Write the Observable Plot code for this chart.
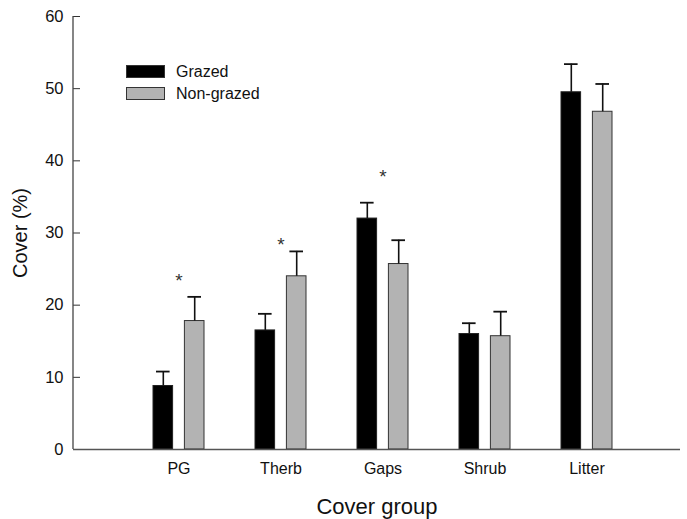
<!DOCTYPE html>
<html>
<head>
<meta charset="utf-8">
<script src="https://cdn.jsdelivr.net/npm/d3@7"></script>
<script src="https://cdn.jsdelivr.net/npm/@observablehq/plot@0.6"></script>
<style>
  html, body { margin: 0; padding: 0; background: #fff; }
  #wrap { position: relative; width: 687px; height: 519px; font-family: "Liberation Sans", Arial, sans-serif; }
  .leg { position: absolute; left: 126px; font-size: 16px; color: #111; }
  .sw { position: absolute; width: 39px; height: 13px; box-sizing: border-box; border: 1px solid #333; }
  .lt { position: absolute; left: 50px; white-space: nowrap; line-height: 16px; }
</style>
</head>
<body>
<div id="wrap"></div>
<script>
const categories = ["PG", "Therb", "Gaps", "Shrub", "Litter"];
const grazed = [8.8, 16.5, 32.0, 16.0, 49.5];
const grazedSE = [2.0, 2.3, 2.2, 1.5, 3.9];
const nonGrazed = [17.8, 24.0, 25.7, 15.7, 46.8];
const nonGrazedSE = [3.35, 3.45, 3.3, 3.4, 3.85];
const yTicks = [0, 10, 20, 30, 40, 50, 60];
const starGroups = ["PG", "Therb", "Gaps"];
const starY = [24.0, 29.1, 38.4];
const seriesNames = ["Grazed", "Non-grazed"];
const seriesFill = ["#000000", "#b3b3b3"];

const gData = categories.map((c, i) => ({cat: c, v: grazed[i], se: grazedSE[i]}));
const nData = categories.map((c, i) => ({cat: c, v: nonGrazed[i], se: nonGrazedSE[i]}));
const stars = starGroups.map((c, i) => ({cat: c, y: starY[i]}));

const W = 687, H = 519;
const chart = Plot.plot({
  width: W,
  height: H,
  marginLeft: 73,
  marginRight: 7,
  marginTop: 16,
  marginBottom: 70,
  style: {fontFamily: "Liberation Sans, Arial, sans-serif", color: "#111", background: "#fff"},
  x: {domain: categories, paddingInner: 0.5, paddingOuter: 0.7, align: 0.54, label: null},
  y: {domain: [0, 60], label: null},
  marks: [
    Plot.axisY({ticks: yTicks, tickSize: -7, tickPadding: 17, fontSize: 16.5, label: null, stroke: "#333"}),
    Plot.axisX({tickSize: 0, tickPadding: 13, fontSize: 16, label: null}),
    Plot.barY(gData, {x: "cat", y: "v", fill: seriesFill[0], stroke: "#222", strokeWidth: 1, insetRight: 31.4}),
    Plot.barY(nData, {x: "cat", y: "v", fill: seriesFill[1], stroke: "#333", strokeWidth: 1, insetLeft: 31.4}),
    Plot.ruleX(gData, {x: "cat", y1: "v", y2: d => d.v + d.se, dx: -15.7, stroke: "#111", strokeWidth: 1.6}),
    Plot.ruleX(nData, {x: "cat", y1: "v", y2: d => d.v + d.se, dx: 15.7, stroke: "#111", strokeWidth: 1.6}),
    Plot.tickY(gData, {x: "cat", y: d => d.v + d.se, insetLeft: 3, insetRight: 34.4, stroke: "#111", strokeWidth: 1.8}),
    Plot.tickY(nData, {x: "cat", y: d => d.v + d.se, insetLeft: 34.4, insetRight: 3, stroke: "#111", strokeWidth: 1.8}),
    Plot.text(stars, {x: "cat", y: "y", text: () => "*", fontSize: 19, dy: 5, fill: "#333"}),
    Plot.ruleY([0], {stroke: "#555", strokeWidth: 1.3}),
    Plot.text(["Cover group"], {frameAnchor: "bottom", lineAnchor: "middle", dy: 57, fontSize: 22, fill: "#111"}),
    Plot.text(["Cover (%)"], {frameAnchor: "left", textAnchor: "middle", lineAnchor: "middle", dx: -53, rotate: -90, fontSize: 20, fill: "#111"})
  ]
});

// y axis line along the left edge of the frame
const xr = chart.scale("x").range, yr = chart.scale("y").range;
d3.select(chart).append("line")
  .attr("x1", xr[0]).attr("x2", xr[0])
  .attr("y1", yr[0]).attr("y2", yr[1])
  .attr("stroke", "#444").attr("stroke-width", 1.3);

const wrap = document.getElementById("wrap");
wrap.appendChild(chart);

// legend overlay
seriesNames.forEach((name, i) => {
  const row = document.createElement("div");
  row.className = "leg";
  row.style.top = (65 + i * 22) + "px";
  row.innerHTML = `<div class="sw" style="background:${seriesFill[i]}; top:0; left:0"></div><div class="lt" style="top:-1px">${name}</div>`;
  wrap.appendChild(row);
});
</script>
</body>
</html>
